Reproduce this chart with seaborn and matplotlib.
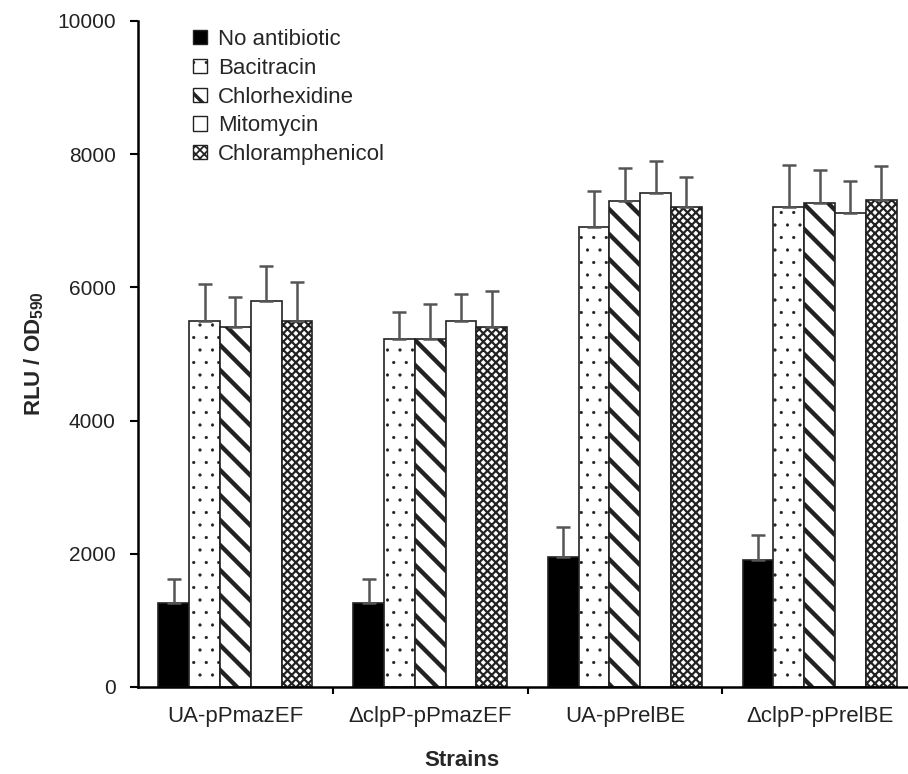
import matplotlib
matplotlib.use("Agg")
import matplotlib.pyplot as plt
import seaborn as sns
import pandas as pd
import numpy as np
from matplotlib.patches import Patch
from matplotlib.container import BarContainer

# ---- data ----
strains = ["UA-pPmazEF", "\u0394clpP-pPmazEF", "UA-pPrelBE", "\u0394clpP-pPrelBE"]
treatments = ["No antibiotic", "Bacitracin", "Chlorhexidine", "Mitomycin", "Chloramphenicol"]

no_antibiotic = [1260, 1260, 1950, 1900]
bacitracin = [5500, 5220, 6900, 7200]
chlorhexidine = [5400, 5220, 7300, 7260]
mitomycin = [5800, 5500, 7420, 7120]
chloramphenicol = [5500, 5400, 7200, 7310]

no_antibiotic_err = [360, 360, 450, 380]
bacitracin_err = [555, 405, 540, 645]
chlorhexidine_err = [450, 525, 495, 510]
mitomycin_err = [525, 405, 480, 480]
chloramphenicol_err = [585, 540, 465, 510]

yticks = [0, 2000, 4000, 6000, 8000, 10000]

values = [no_antibiotic, bacitracin, chlorhexidine, mitomycin, chloramphenicol]
errors = [no_antibiotic_err, bacitracin_err, chlorhexidine_err, mitomycin_err, chloramphenicol_err]

rows = []
for t, vals in zip(treatments, values):
    for s, v in zip(strains, vals):
        rows.append({"Strain": s, "Treatment": t, "Value": v})
df = pd.DataFrame(rows)

# ---- style ----
DPI = 75
K = 100 / DPI  # keep pixel sizes as designed for 100 dpi


def P(x):
    return x * K


sns.set_theme(style="ticks")
plt.rcParams["font.family"] = ["Liberation Sans", "DejaVu Sans"]
plt.rcParams["mathtext.default"] = "regular"
plt.rcParams["hatch.color"] = "black"

fills = ["black", "white", "white", "white", "white"]
hatches = [None, ".", "\\", None, "xxx"]
hatch_lw = [1.0, 0.6, 4.2, 1.0, 2.1]

fig = plt.figure(figsize=(909 / DPI, 774 / DPI), dpi=DPI)
ax = fig.add_axes([138 / 909, 1 - 687 / 774, 779 / 909, 666 / 774])

sns.barplot(data=df, x="Strain", y="Value", hue="Treatment", order=strains,
            hue_order=treatments, palette=fills, width=0.79, errorbar=None,
            edgecolor="#222222", linewidth=P(1.2), ax=ax, legend=False)

bar_containers = [c for c in ax.containers if isinstance(c, BarContainer)]
for i, cont in enumerate(bar_containers):
    xs, hs = [], []
    for bar in cont.patches:
        bar.set_facecolor(fills[i])
        bar.set_edgecolor("#222222")
        if hatches[i]:
            bar.set_hatch(hatches[i])
            if hasattr(bar, "set_hatch_linewidth"):
                bar.set_hatch_linewidth(hatch_lw[i])
        xs.append(bar.get_x() + bar.get_width() / 2)
        hs.append(bar.get_height())
    err = errors[i]
    ax.errorbar(xs, hs, yerr=[np.zeros(len(err)), err], fmt="none",
                ecolor="#555555", elinewidth=P(1.8), capsize=P(5), capthick=P(1.8), zorder=5)

ax.set_xlim(-0.5, 3.5)
ax.set_ylim(0, 10000)
ax.set_yticks(yticks)
ax.set_yticklabels([str(v) for v in yticks], fontsize=P(15), color="#222222")
ax.set_xticks(range(len(strains)))
ax.set_xticklabels(strains, fontsize=P(16), color="#222222")
ax.tick_params(axis="x", which="major", length=0, pad=P(14))
ax.set_xticks([0.5, 1.5, 2.5], minor=True)
ax.tick_params(axis="x", which="minor", length=P(5), width=P(1.5), color="black")
ax.tick_params(axis="y", length=P(6), width=P(1.5), color="black", pad=P(10))

for sp in ["top", "right"]:
    ax.spines[sp].set_visible(False)
for sp in ["left", "bottom"]:
    ax.spines[sp].set_linewidth(P(1.8))
    ax.spines[sp].set_color("black")

ax.set_ylabel("RLU / OD$_{590}$", fontsize=P(16), fontweight="bold", labelpad=P(8))
ax.set_xlabel("Strains", fontsize=P(16), fontweight="bold")
ax.xaxis.set_label_coords(0.416, -0.095)

handles = []
for i, t in enumerate(treatments):
    p = Patch(facecolor=fills[i], edgecolor="#222222", hatch=hatches[i], label=t, linewidth=P(1.0))
    handles.append(p)
leg = ax.legend(handles=handles, loc="upper left", bbox_to_anchor=(0.071, 0.988),
                frameon=False, fontsize=P(16), handlelength=0.6, handleheight=0.6,
                handletextpad=0.5, labelspacing=0.35, borderpad=0, borderaxespad=0)
for h, lw in zip(leg.legend_handles, hatch_lw):
    if hasattr(h, "set_hatch_linewidth"):
        h.set_hatch_linewidth(lw * 0.8)

fig.savefig("out.png", dpi=DPI)
